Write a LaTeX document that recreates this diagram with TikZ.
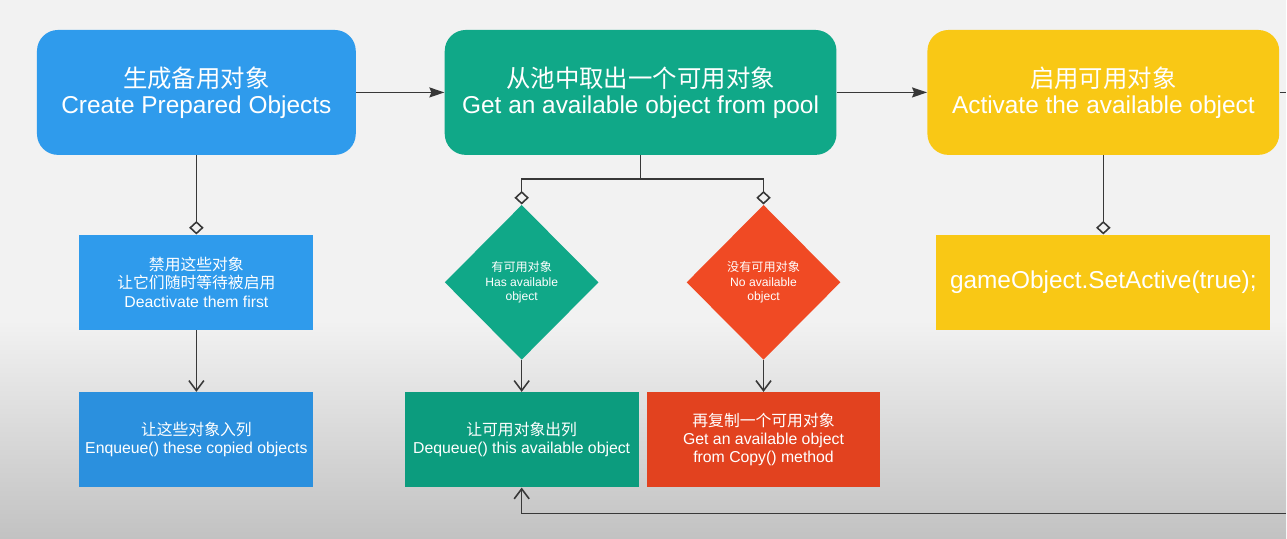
\documentclass[tikz,border=0pt]{standalone}
\usepackage{fontspec}
\setmainfont{Liberation Sans}
\newfontfamily\cjk{Noto Sans CJK SC}
\usepackage{tikz}
\usetikzlibrary{positioning, arrows.meta, shapes.geometric}

\definecolor{poolblue}{HTML}{2F9BEC}
\definecolor{poolblueD}{HTML}{2B90DE}
\definecolor{poolgreen}{HTML}{10A888}
\definecolor{poolgreenD}{HTML}{0C9C7E}
\definecolor{poolyellow}{HTML}{F9C815}
\definecolor{poolred}{HTML}{F04A24}
\definecolor{poolredD}{HTML}{E2421F}
\definecolor{wire}{HTML}{383838}
\definecolor{bgtop}{HTML}{F2F2F2}
\definecolor{bgbot}{HTML}{C2C2C2}

\newcommand{\zh}[1]{{\cjk #1}}

\begin{document}
\begin{tikzpicture}[
  tbox/.style={rounded corners=0.42cm, minimum height=2.5cm, align=center, text=white,
               font=\fontsize{13.9}{14.8}\selectfont, inner sep=0pt},
  sbox/.style={minimum width=4.68cm, minimum height=1.9cm, align=center, text=white,
               font=\fontsize{9}{10.3}\selectfont, inner sep=0pt},
  dbox/.style={diamond, minimum width=3.08cm, minimum height=3.1cm, align=center, text=white,
               font=\fontsize{6.9}{8.1}\selectfont, inner sep=0pt},
  link/.style={draw=wire, line width=0.9pt},
  flow/.style={link, -{Stealth[length=0.3cm, width=0.2cm, inset=0.04cm]}},
  agg/.style={link, -{Diamond[open, length=0.27cm, width=0.29cm]}},
  opn/.style={link, -{Straight Barb[length=0.2cm, width=0.3cm]}},
]
  % background
  \fill[bgtop] (0,0) rectangle (25.74,-10.78);
  \shade[top color=bgtop, bottom color=bgbot] (0,-6.4) rectangle (25.74,-10.78);

  % Top row
  \node[tbox, fill=poolblue,   minimum width=6.38cm] (create) at (3.93,-1.85)
    {\zh{生成备用对象}\\Create Prepared Objects};
  \node[tbox, fill=poolgreen,  minimum width=7.84cm] (fetch)  at (12.82,-1.85)
    {\zh{从池中取出一个可用对象}\\Get an available object from pool};
  \node[tbox, fill=poolyellow, minimum width=7.04cm] (enable) at (22.08,-1.85)
    {\zh{启用可用对象}\\Activate the available object};

  % Left column
  \node[sbox, fill=poolblue]  (deact) at (3.93,-5.65)
    {\zh{禁用这些对象}\\\zh{让它们随时等待被启用}\\Deactivate them first};
  \node[sbox, fill=poolblueD] (enq)   at (3.93,-8.8)
    {\zh{让这些对象入列}\\Enqueue() these copied objects};

  % Decisions
  \node[dbox, fill=poolgreen] (hasobj) at (10.44,-5.65)
    {\zh{有可用对象}\\Has available\\object};
  \node[dbox, fill=poolred]   (noobj)  at (15.28,-5.65)
    {\zh{没有可用对象}\\No available\\object};
  \node[sbox, fill=poolgreenD] (deq)  at (10.44,-8.8)
    {\zh{让可用对象出列}\\Dequeue() this available object};
  \node[sbox, fill=poolredD]   (copy) at (15.28,-8.8)
    {\zh{再复制一个可用对象}\\Get an available object\\from Copy() method};

  % Right column
  \node[sbox, fill=poolyellow, minimum width=6.68cm, font=\fontsize{13.9}{14.8}\selectfont]
    (setact) at (22.08,-5.65) {gameObject.SetActive(true);};

  \coordinate (fork)  at (12.82,-3.58);
  \coordinate (edgeR) at (25.74,-1.85);
  \coordinate (edgeB) at (25.74,-10.28);

  % Connectors
  \draw[flow] (create.east) -- (fetch.west);
  \draw[flow] (fetch.east) -- (enable.west);
  \draw[link] (enable.east) -- (edgeR);
  \draw[agg] (create.south) -- (deact.north);
  \draw[opn] (deact.south) -- (enq.north);
  \draw[link] (fetch.south) -- (fork);
  \draw[agg] (fork) -| (hasobj.north);
  \draw[agg] (fork) -| (noobj.north);
  \draw[opn] (hasobj.south) -- (deq.north);
  \draw[opn] (noobj.south) -- (copy.north);
  \draw[agg] (enable.south) -- (setact.north);
  \draw[opn] (edgeB) -| (deq.south);
\end{tikzpicture}
\end{document}
